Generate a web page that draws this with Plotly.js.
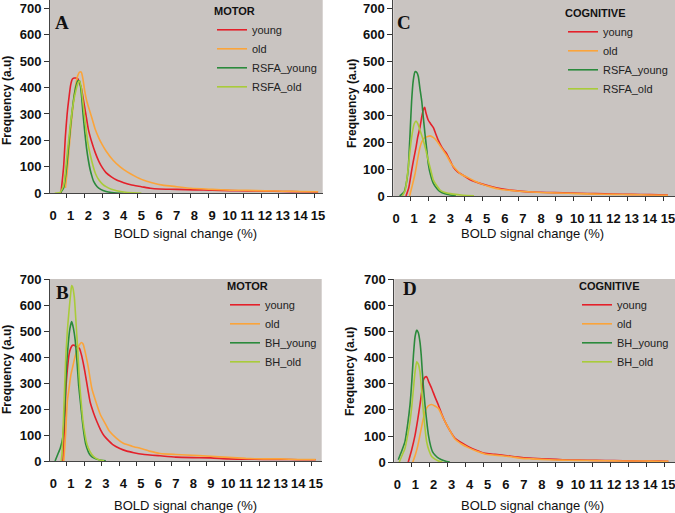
<!DOCTYPE html>
<html><head><meta charset="utf-8">
<script src="https://cdn.plot.ly/plotly-3.0.1.min.js"></script>
<style>body{margin:0;background:#fff}#c{width:675px;height:513px}</style>
</head><body><div id="c"></div>
<script>
// ---------- DATA ----------
const xTickLabels = [0,1,2,3,4,5,6,7,8,9,10,11,12,13,14,15];
const yTickLabels = [0,100,200,300,400,500,600,700];

// Panel A : MOTOR, RSFA
const xA_young = [0.45,0.6,0.7,0.8,0.9,1.0,1.1,1.2,1.3,1.4,1.5,1.6,1.7,1.8,1.9,2.0,2.2,2.4,2.6,2.8,3.0,3.3,3.6,4.0,4.4,5.0,5.5,6,7,8,9,10,11,12,13,14,15];
const yA_young = [0,100,215,300,360,410,432,436,436,434,418,398,362,322,282,242,192,152,120,96,78,62,50,40,32,25,19,16,15,13,12,10,9,8,7,6,5];
const xA_old = [0.7,0.8,0.9,1.0,1.1,1.2,1.3,1.4,1.5,1.6,1.7,1.8,1.9,2.0,2.2,2.4,2.6,2.8,3.0,3.4,3.8,4.2,4.6,5.1,5.6,6.2,7,7.8,9,10,11,12,13,14,15];
const yA_old = [20,80,160,240,310,370,415,445,458,458,430,385,352,328,285,240,208,182,160,125,100,81,66,50,40,31,25,19,15,12,11,9,8,7,6];
const xA_rsfaYoung = [0.4,0.6,0.7,0.8,0.9,1.0,1.1,1.2,1.3,1.4,1.5,1.6,1.7,1.8,1.9,2.0,2.1,2.2,2.3,2.5,2.7,3.0,3.3,3.6,4.0];
const yA_rsfaYoung = [0,20,60,120,190,260,320,370,405,425,425,380,300,230,170,125,90,65,45,25,15,7,3,1,0];
const xA_rsfaOld = [0.1,0.4,0.6,0.7,0.8,0.9,1.0,1.1,1.2,1.3,1.4,1.5,1.6,1.7,1.8,1.9,2.0,2.2,2.4,2.6,2.8,3.0,3.3,3.6,4.0,4.5,5.0];
const yA_rsfaOld = [0,3,30,80,150,210,270,320,360,390,415,425,400,340,280,225,180,120,75,50,35,25,15,10,5,2,1];

// Panel B : MOTOR, BH
const xB_young = [0.55,0.65,0.72,0.8,0.9,1.0,1.1,1.2,1.3,1.4,1.5,1.6,1.7,1.8,1.9,2.0,2.1,2.3,2.5,2.7,2.9,3.1,3.4,3.8,4.2,4.6,5.1,6.1,7,8,9,10,11,12,13,14,15];
const yB_young = [0,150,280,350,410,435,445,445,440,438,432,410,380,345,305,265,228,185,150,120,97,82,63,48,38,32,26,20,15,13,12,8,7,6,6,5,5];
const xB_old = [0.6,0.7,0.8,0.9,1.0,1.1,1.2,1.3,1.4,1.5,1.6,1.7,1.8,1.9,2.0,2.2,2.4,2.7,3.0,3.2,3.6,4.0,4.5,5.0,5.5,6.1,7,7.6,9,10,11,12,13,14,15];
const yB_old = [0,100,230,280,330,360,390,415,435,448,456,450,425,395,360,280,235,177,140,115,88,68,57,48,38,29,25,23,18,14,10,8,8,6,6];
const xB_bhYoung = [0.1,0.25,0.4,0.55,0.65,0.75,0.85,0.95,1.05,1.15,1.25,1.35,1.45,1.55,1.65,1.75,1.85,2.0,2.1,2.3,2.6,3.0];
const yB_bhYoung = [0,25,50,95,200,360,450,510,536,510,465,385,290,225,160,105,65,35,23,12,5,1];
const xB_bhOld = [0.45,0.5,0.6,0.7,0.8,0.9,1.0,1.05,1.1,1.2,1.3,1.4,1.5,1.6,1.7,1.8,1.9,2.0,2.2,2.4,2.6,2.9];
const yB_bhOld = [0,30,200,380,500,580,650,675,670,630,530,420,300,220,150,105,70,50,25,12,5,1];

// Panel C : COGNITIVE, RSFA
const xC_young = [0.55,0.7,0.85,0.96,1.1,1.2,1.32,1.42,1.51,1.58,1.65,1.78,1.9,2.06,2.2,2.34,2.5,2.65,2.8,3.0,3.16,3.4,3.71,4.1,4.63,5.2,5.74,6.3,6.84,7.5,8.3,9.2,10.1,11,12,13,14,15];
const yC_young = [0,30,90,132,180,220,255,295,322,330,310,282,270,255,230,206,185,170,157,130,108,90,77,60,47,36,28,22,18,15,13,12,10,9,7,6,5,4];
const xC_old = [0.75,0.9,1.05,1.2,1.32,1.45,1.6,1.75,1.88,2.05,2.24,2.5,2.8,3.05,3.35,3.6,3.9,4.3,4.63,5.2,5.74,6.3,7,8,9,10,11,12,13,14,15];
const yC_old = [0,40,83,140,181,205,218,222,224,218,206,180,150,120,96,80,71,57,47,34,25,21,17,13,11,9,7,6,5,4,3];
const xC_rsfaYoung = [0.2,0.45,0.6,0.68,0.78,0.86,0.95,1.05,1.15,1.23,1.32,1.42,1.51,1.6,1.7,1.78,1.9,2.06,2.25,2.43,2.7,2.98,3.3];
const yC_rsfaYoung = [0,15,60,108,240,353,430,463,460,445,400,353,290,230,170,120,80,47,28,16,8,4,1];
const xC_rsfaOld = [0.35,0.5,0.65,0.77,0.9,1.0,1.1,1.2,1.3,1.42,1.51,1.65,1.78,1.92,2.06,2.25,2.43,2.7,3.16,3.7,4.3];
const yC_rsfaOld = [0,20,90,169,235,268,279,270,250,225,206,170,132,95,59,38,22,13,7,3,1];

// Panel D : COGNITIVE, BH
const xD_young = [0.6,0.8,0.98,1.12,1.25,1.35,1.44,1.53,1.62,1.72,1.9,2.08,2.27,2.45,2.64,2.9,3.19,3.55,3.93,4.4,4.85,5.3,5.77,6.3,6.9,7.5,8.0,8.8,9.5,10.5,11.5,12.5,13.5,14.5,15];
const yD_young = [0,50,104,160,219,270,314,325,327,310,282,250,219,185,155,122,92,75,60,45,34,31,28,23,18,15,13,11,9,8,7,6,5,5,4];
const xD_old = [0.85,1.0,1.12,1.25,1.4,1.53,1.7,1.9,2.08,2.27,2.45,2.64,2.9,3.19,3.55,3.93,4.4,4.85,5.3,5.77,6.3,6.9,7.5,8.0,8.8,9.5,10.5,11.5,12.5,13.5,14.5,15];
const yD_old = [0,30,60,104,155,193,215,221,215,206,182,155,122,89,70,56,42,32,28,25,21,15,13,11,9,8,7,6,5,5,4,4];
const xD_bhYoung = [0.05,0.25,0.42,0.56,0.7,0.8,0.89,0.98,1.07,1.16,1.25,1.32,1.38,1.45,1.53,1.62,1.72,1.85,1.95,2.08,2.3,2.64,2.9];
const yD_bhYoung = [10,45,79,140,219,310,410,480,505,495,460,410,346,280,219,160,104,60,40,28,15,5,1];
const xD_bhOld = [0.1,0.25,0.42,0.56,0.7,0.8,0.89,0.98,1.07,1.16,1.25,1.35,1.44,1.53,1.62,1.75,1.9,2.08,2.27,2.5];
const yD_bhOld = [0,25,53,100,155,215,282,345,384,375,346,270,193,130,79,45,22,12,5,1];

// ---------- STYLE ----------
const C_RED = '#e4202a', C_ORANGE = '#fba43a', C_DGREEN = '#2b8a3c', C_LGREEN = '#a9cb3a';
const LW = 1.6;

function tr(x, y, name, color, ax, legend) {
  return {x: x, y: y, name: name, type: 'scatter', mode: 'lines',
    line: {color: color, width: LW, shape: 'spline', smoothing: 0.5},
    xaxis: 'x' + ax, yaxis: 'y' + ax, legend: legend};
}

const data = [
  tr(xA_young, yA_young, 'young', C_RED, '', 'legend'),
  tr(xA_old, yA_old, 'old', C_ORANGE, '', 'legend'),
  tr(xA_rsfaYoung, yA_rsfaYoung, 'RSFA_young', C_DGREEN, '', 'legend'),
  tr(xA_rsfaOld, yA_rsfaOld, 'RSFA_old', C_LGREEN, '', 'legend'),
  tr(xB_young, yB_young, 'young', C_RED, '2', 'legend2'),
  tr(xB_old, yB_old, 'old', C_ORANGE, '2', 'legend2'),
  tr(xB_bhYoung, yB_bhYoung, 'BH_young', C_DGREEN, '2', 'legend2'),
  tr(xB_bhOld, yB_bhOld, 'BH_old', C_LGREEN, '2', 'legend2'),
  tr(xC_young, yC_young, 'young', C_RED, '3', 'legend3'),
  tr(xC_old, yC_old, 'old', C_ORANGE, '3', 'legend3'),
  tr(xC_rsfaYoung, yC_rsfaYoung, 'RSFA_young', C_DGREEN, '3', 'legend3'),
  tr(xC_rsfaOld, yC_rsfaOld, 'RSFA_old', C_LGREEN, '3', 'legend3'),
  tr(xD_young, yD_young, 'young', C_RED, '4', 'legend4'),
  tr(xD_old, yD_old, 'old', C_ORANGE, '4', 'legend4'),
  tr(xD_bhYoung, yD_bhYoung, 'BH_young', C_DGREEN, '4', 'legend4'),
  tr(xD_bhOld, yD_bhOld, 'BH_old', C_LGREEN, '4', 'legend4')
];

const TICKFONT = {family: 'Liberation Sans, Arial, sans-serif', size: 13, color: '#111', weight: 'bold'};
const minorTicks = [-1,0,1,2,3,4,5,6,7,8,9,10,11,12,13,14].map(k => k + 0.78);

function xax(domain, range, anchor) {
  return {domain: domain, range: range, anchor: anchor, tickmode: 'array',
    tickvals: xTickLabels, ticktext: xTickLabels.map(String), ticks: '',
    ticklabelstandoff: 10, tickfont: TICKFONT, ticklabeloverflow: 'allow',
    minor: {tickmode: 'array', tickvals: minorTicks, ticks: 'outside', ticklen: 4, tickcolor: '#333', showgrid: false},
    showgrid: false, zeroline: false, showline: true, linecolor: '#444', linewidth: 1, fixedrange: true};
}
function yax(domain, range, anchor) {
  return {domain: domain, range: range, anchor: anchor, tickmode: 'array',
    tickvals: yTickLabels, ticktext: yTickLabels.map(String), ticks: 'outside', ticklen: 5, tickcolor: '#333',
    tickfont: TICKFONT, ticklabelstandoff: 0, ticklabeloverflow: 'allow',
    showgrid: false, zeroline: false, showline: true, linecolor: '#444', linewidth: 1, fixedrange: true};
}
function leg(x, y, title) {
  return {x: x, y: y, xanchor: 'left', yanchor: 'top', bgcolor: 'rgba(0,0,0,0)', borderwidth: 0,
    font: {family: 'Liberation Sans, Arial, sans-serif', size: 11, color: '#222'},
    title: {text: '<b>' + title + '</b>', font: {family: 'Liberation Sans, Arial, sans-serif', size: 11, color: '#111'}},
    tracegroupgap: 0};
}

const W = 675, H = 513;
const px = v => v / W, py = v => 1 - v / H;

const XT = 'BOLD signal change (%)', YT = 'Frequency (a.u)';
const tfont = {family: 'Liberation Sans, Arial, sans-serif', size: 13, color: '#111'};
const yfont = {family: 'Liberation Sans, Arial, sans-serif', size: 12, color: '#111', weight: 'bold'};
const lfont = {family: 'Liberation Serif, Times New Roman, serif', size: 19, color: '#111', weight: 'bold'};
function ann(x, y, text, font, angle) {
  return {x: x, y: y, xref: 'paper', yref: 'paper', text: text, showarrow: false, font: font,
    xanchor: 'center', yanchor: 'middle', textangle: angle || 0};
}

const layout = {
  width: W, height: H, margin: {l: 0, r: 0, t: 0, b: 0},
  paper_bgcolor: '#ffffff', plot_bgcolor: '#c9c4c1', showlegend: true,
  xaxis: xax([px(50), px(322.7)], [-0.17, 15.26], 'y'),
  yaxis: yax([py(193.3), 1], [0, 731], 'x'),
  xaxis2: xax([px(50), px(321.7)], [-0.19, 15.34], 'y2'),
  yaxis2: yax([py(461), py(279)], [0, 700], 'x2'),
  xaxis3: xax([px(393.3), 1], [-0.15, 15.39], 'y3'),
  yaxis3: yax([py(196), 1], [0, 730], 'x3'),
  xaxis4: xax([px(394.3), 1], [-0.17, 15.37], 'y4'),
  yaxis4: yax([py(462.3), py(279)], [0, 700], 'x4'),
  legend: leg(px(212), py(1), 'MOTOR'),
  legend2: leg(px(225), py(276), 'MOTOR'),
  legend3: leg(px(563), py(3), 'COGNITIVE'),
  legend4: leg(px(577), py(276), 'COGNITIVE'),
  annotations: [
    ann(px(185), py(233), XT, tfont), ann(px(532), py(233), XT, tfont),
    ann(px(185), py(505), XT, tfont), ann(px(532), py(505), XT, tfont),
    ann(px(7), py(101), YT, yfont, -90), ann(px(352), py(103), YT, yfont, -90),
    ann(px(7), py(370), YT, yfont, -90), ann(px(350), py(372), YT, yfont, -90),
    ann(px(62), py(23), 'A', lfont), ann(px(62), py(292), 'B', lfont),
    ann(px(404), py(22), 'C', lfont), ann(px(410), py(288), 'D', lfont)
  ]
};

Plotly.newPlot('c', data, layout, {staticPlot: true, displayModeBar: false});
</script></body></html>
